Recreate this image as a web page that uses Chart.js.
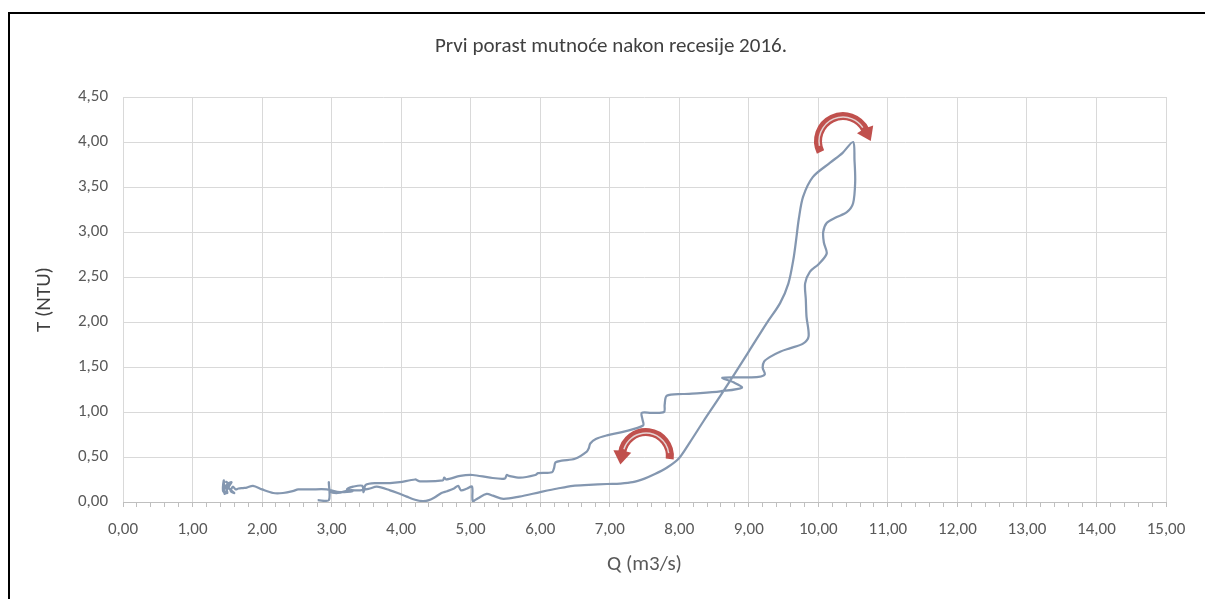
<!DOCTYPE html>
<html>
<head>
<meta charset="utf-8">
<script src="https://cdn.jsdelivr.net/npm/chart.js@4.4.1/dist/chart.umd.min.js"></script>
<style>
  html, body { margin: 0; padding: 0; background: #ffffff; }
  #wrap { position: relative; width: 1205px; height: 599px; overflow: hidden; }
  #frame { position: absolute; left: 8px; top: 12px; width: 1300px; height: 700px;
           border-top: 2px solid #000; border-left: 2px solid #000; box-sizing: border-box; pointer-events: none; }
  canvas { position: absolute; left: 0; top: 0; }
</style>
</head>
<body>
<div id="wrap">
  <canvas id="c" width="1205" height="599"></canvas>
  <div id="frame"></div>
</div>
<script>
// ---- Data ----
const chartTitle = 'Prvi porast mutnoće nakon recesije 2016.';
const xAxisTitle = 'Q (m3/s)';
const yAxisTitle = 'T (NTU)';

// Discharge Q (m3/s), in time order
const qValues = [
  2.80, 2.96, 2.96, 2.98, 3.09, 3.25, 3.41, 3.55, 3.65, 3.84, 3.95, 4.08, 4.20, 4.31, 4.40, 4.48, 4.58, 4.66, 4.76, 4.82,
  4.86, 4.95, 5.02, 5.03, 5.10, 5.23, 5.32, 5.47, 5.70, 6.00, 6.25, 6.47, 6.70, 6.96, 7.15, 7.33, 7.50, 7.65, 7.82, 7.99,
  8.15, 8.35, 8.60, 8.99, 9.26, 9.45, 9.57, 9.64, 9.68, 9.72, 9.78, 9.92, 10.17, 10.35, 10.50,
  10.52, 10.53, 10.50, 10.41, 10.25, 10.12, 10.07, 10.08, 10.12, 10.00, 9.88, 9.81, 9.82, 9.83, 9.86, 9.78, 9.60, 9.45, 9.30, 9.22,
  9.20, 9.23, 9.14, 8.90, 8.62, 8.78, 8.90, 8.59, 8.30, 8.05, 7.82, 7.79, 7.78, 7.60, 7.46, 7.47, 7.48, 7.19, 6.96, 6.80,
  6.72, 6.70, 6.67, 6.50, 6.31, 6.22, 6.20, 6.17, 5.97, 5.93, 5.71, 5.55, 5.52, 5.49, 5.28, 5.03, 4.85, 4.65, 4.62, 4.60,
  4.27, 4.20, 3.98, 3.84, 3.65, 3.49, 3.46, 3.44, 3.31, 3.22, 3.30, 3.12, 2.93, 2.70, 2.52, 2.44, 2.30, 2.16, 2.00, 1.87,
  1.78, 1.73, 1.66, 1.62, 1.58, 1.55, 1.60, 1.52, 1.56, 1.48, 1.50, 1.44, 1.45, 1.46, 1.52, 1.47
];
// Turbidity T (NTU), same order
const tValues = [
  0.02, 0.02, 0.22, 0.12, 0.10, 0.13, 0.13, 0.15, 0.17, 0.13, 0.10, 0.06, 0.025, 0.01, 0.02, 0.05, 0.10, 0.12, 0.15, 0.18,
  0.13, 0.15, 0.17, 0.01, 0.04, 0.09, 0.07, 0.035, 0.06, 0.11, 0.15, 0.18, 0.19, 0.20, 0.205, 0.22, 0.26, 0.31, 0.38, 0.48,
  0.66, 0.90, 1.19, 1.66, 1.99, 2.21, 2.43, 2.69, 2.91, 3.15, 3.39, 3.61, 3.77, 3.88, 4.00,
  3.80, 3.56, 3.32, 3.22, 3.16, 3.10, 3.00, 2.88, 2.76, 2.64, 2.56, 2.43, 2.25, 2.06, 1.84, 1.76, 1.71, 1.67, 1.61, 1.56,
  1.49, 1.42, 1.39, 1.385, 1.38, 1.33, 1.27, 1.23, 1.21, 1.20, 1.18, 1.08, 1.00, 0.99, 0.99, 0.92, 0.85, 0.78, 0.74, 0.70,
  0.65, 0.60, 0.56, 0.48, 0.46, 0.44, 0.38, 0.33, 0.32, 0.30, 0.27, 0.29, 0.30, 0.26, 0.27, 0.30, 0.29, 0.25, 0.27, 0.24,
  0.23, 0.25, 0.22, 0.21, 0.21, 0.19, 0.11, 0.18, 0.17, 0.14, 0.12, 0.11, 0.14, 0.14, 0.14, 0.12, 0.10, 0.10, 0.14, 0.18,
  0.16, 0.155, 0.15, 0.14, 0.17, 0.12, 0.10, 0.16, 0.22, 0.18, 0.10, 0.12, 0.24, 0.09, 0.20, 0.23
];

// Axis ranges / tick steps
const xMin = 0, xMax = 15, xMajorStep = 1, xMinorStep = 0.2;
const yMin = 0, yMax = 4.5, yStep = 0.5;

// Curved direction arrows (annotation centres in data units)
const arrowQ = [7.52, 10.355];
const arrowT = [0.51, 4.01];

// ---- Build ----
const points = qValues.map((q, i) => ({ x: q, y: tValues[i] }));
const fmt = v => v.toFixed(2).replace('.', ',');
const isMajor = v => Math.abs(v / xMajorStep - Math.round(v / xMajorStep)) < 1e-6;
const FONT = 'Carlito, Lato, sans-serif';
const TXT = '#595959';

const arrowStyles = [
  { r: 24, a0: 0.12, a1: -Math.PI + 0.15, ccw: true },
  { r: 25, a0: Math.PI - 0.45, a1: 2 * Math.PI - 0.45, ccw: false }
];

const arrowPlugin = {
  id: 'arrows',
  afterDatasetsDraw(chart) {
    const { ctx, scales: { x, y } } = chart;
    arrowQ.forEach((q, i) => {
      const s = arrowStyles[i];
      const cx = x.getPixelForValue(q), cy = y.getPixelForValue(arrowT[i]);
      const red = '#C0504D';
      ctx.save();
      ctx.lineCap = 'butt';
      ctx.strokeStyle = red;
      ctx.lineWidth = 8;
      ctx.beginPath();
      ctx.arc(cx, cy, s.r, s.a0, s.a1, s.ccw);
      ctx.stroke();
      const ex = cx + s.r * Math.cos(s.a1), ey = cy + s.r * Math.sin(s.a1);
      const tx = s.ccw ? Math.sin(s.a1) : -Math.sin(s.a1);
      const ty = s.ccw ? -Math.cos(s.a1) : Math.cos(s.a1);
      const nx = Math.cos(s.a1), ny = Math.sin(s.a1);
      const hl = 12, hw = 9;
      ctx.fillStyle = red;
      ctx.beginPath();
      ctx.moveTo(ex + tx * hl, ey + ty * hl);
      ctx.lineTo(ex + nx * hw - tx * 1, ey + ny * hw - ty * 1);
      ctx.lineTo(ex - tx * 2, ey - ty * 2);
      ctx.lineTo(ex - nx * hw - tx * 1, ey - ny * hw - ty * 1);
      ctx.closePath();
      ctx.fill();
      // light inner highlight
      ctx.strokeStyle = 'rgba(235,235,235,0.85)';
      ctx.lineWidth = 1.5;
      ctx.beginPath();
      const d = s.ccw ? -0.25 : 0.25;
      ctx.arc(cx, cy, s.r - 1, s.a0 + d, s.a1 - d * 0.6, s.ccw);
      ctx.stroke();
      ctx.restore();
    });
  }
};

new Chart(document.getElementById('c'), {
  type: 'scatter',
  data: {
    datasets: [{
      data: points,
      showLine: true,
      borderColor: '#8497B0',
      backgroundColor: '#8497B0',
      borderWidth: 2.25,
      pointRadius: 0,
      tension: 0.3,
      fill: false
    }]
  },
  options: {
    responsive: false,
    animation: false,
    devicePixelRatio: 1,
    layout: { padding: { left: 56, right: 39, top: 0, bottom: 0 } },
    plugins: {
      legend: { display: false },
      tooltip: { enabled: false },
      title: {
        display: true,
        text: chartTitle,
        color: '#404040',
        font: { family: FONT, size: 21, weight: 'normal' },
        padding: { top: 34.4, bottom: 37.4 }
      }
    },
    scales: {
      x: {
        type: 'linear',
        min: xMin, max: xMax,
        afterFit: s => { s.height = 97; },
        ticks: {
          stepSize: xMinorStep,
          autoSkip: false,
          maxRotation: 0,
          maxTicksLimit: 200,
          color: TXT,
          font: { family: FONT, size: 17 },
          padding: 13,
          callback: v => isMajor(v) ? fmt(v) : ''
        },
        grid: {
          color: c => (c.tick && isMajor(c.tick.value)) ? '#d9d9d9' : 'rgba(0,0,0,0)',
          tickColor: '#bfbfbf',
          tickLength: 5,
          lineWidth: 1
        },
        border: { color: '#bfbfbf', width: 1 },
        title: {
          display: true, text: xAxisTitle, color: TXT,
          font: { family: FONT, size: 21 },
          padding: { top: 0, bottom: 21.4 }
        }
      },
      y: {
        type: 'linear',
        min: yMin, max: yMax,
        afterFit: s => { s.width = 67; },
        ticks: {
          stepSize: yStep,
          color: TXT,
          font: { family: FONT, size: 17 },
          padding: 15,
          callback: v => fmt(v)
        },
        grid: { color: '#d9d9d9', drawTicks: false, lineWidth: 1 },
        border: { display: false },
        title: {
          display: true, text: yAxisTitle, color: '#404040',
          font: { family: FONT, size: 21 },
          padding: { top: -23.6, bottom: 0 }
        }
      }
    }
  },
  plugins: [arrowPlugin]
});
</script>
</body>
</html>
